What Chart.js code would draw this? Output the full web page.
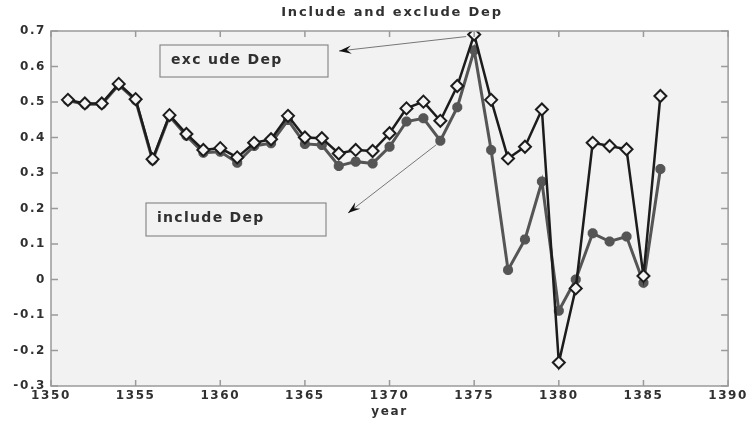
<!DOCTYPE html>
<html>
<head>
<meta charset="utf-8">
<script src="https://cdn.jsdelivr.net/npm/chart.js@4/dist/chart.umd.min.js"></script>
<style>
  html, body { margin: 0; padding: 0; background: #fff; }
  #wrap { width: 751px; height: 424px; }
</style>
</head>
<body>
<div id="wrap"><canvas id="depChart"></canvas></div>
<script>
// years on the x axis
const years = [1351, 1352, 1353, 1354, 1355, 1356, 1357, 1358, 1359, 1360,
               1361, 1362, 1363, 1364, 1365, 1366, 1367, 1368, 1369, 1370,
               1371, 1372, 1373, 1374, 1375, 1376, 1377, 1378, 1379, 1380,
               1381, 1382, 1383, 1384, 1385, 1386];

// exclude Dep (diamonds)
const excludeDep = [0.506, 0.496, 0.496, 0.551, 0.508, 0.339, 0.463, 0.41, 0.365, 0.37,
                    0.344, 0.385, 0.395, 0.461, 0.40, 0.398, 0.355, 0.365, 0.362, 0.412,
                    0.482, 0.501, 0.447, 0.545, 0.69, 0.506, 0.341, 0.374, 0.479, -0.234,
                    -0.025, 0.385, 0.376, 0.367, 0.01, 0.517];

// include Dep (stars)
const includeDep = [0.504, 0.494, 0.494, 0.548, 0.505, 0.336, 0.46, 0.405, 0.357, 0.36,
                    0.329, 0.376, 0.384, 0.449, 0.382, 0.379, 0.32, 0.332, 0.327, 0.374,
                    0.445, 0.454, 0.391, 0.485, 0.646, 0.365, 0.027, 0.113, 0.276, -0.088,
                    0.0, 0.13, 0.107, 0.121, -0.009, 0.311];

const xTicks = [1350, 1355, 1360, 1365, 1370, 1375, 1380, 1385, 1390];
const yTicks = [-0.3, -0.2, -0.1, 0, 0.1, 0.2, 0.3, 0.4, 0.5, 0.6, 0.7];

const FONT = "'DejaVu Sans', 'Liberation Sans', sans-serif";
const TEXT_SPACING = "1.6px";
const TEXT_COLOR = "#303030";

// 눈금 글자 간격 (원본처럼 넓게)
const spacingPlugin = {
    id: "spacing",
    beforeLayout(chart) { chart.ctx.letterSpacing = TEXT_SPACING; },
    beforeDraw(chart) { chart.ctx.letterSpacing = TEXT_SPACING; }
};

// 플롯 배경, 안쪽 눈금, 테두리, 제목
const framePlugin = {
    id: "frame",
    beforeDraw(chart) {
        const { ctx, chartArea: a } = chart;
        ctx.save();
        ctx.fillStyle = "#f2f2f2";
        ctx.fillRect(a.left, a.top, a.right - a.left, a.bottom - a.top);
        ctx.restore();
    },
    afterDraw(chart) {
        const { ctx, chartArea: a, scales } = chart;
        ctx.save();
        ctx.strokeStyle = "#9a9a9a";
        ctx.lineWidth = 1.5;
        ctx.strokeRect(a.left, a.top, a.right - a.left, a.bottom - a.top);
        ctx.beginPath();
        xTicks.forEach(v => {
            const x = scales.x.getPixelForValue(v);
            ctx.moveTo(x, a.bottom); ctx.lineTo(x, a.bottom - 6);
            ctx.moveTo(x, a.top); ctx.lineTo(x, a.top + 6);
        });
        yTicks.forEach(v => {
            const y = scales.y.getPixelForValue(v);
            ctx.moveTo(a.left, y); ctx.lineTo(a.left + 7, y);
            ctx.moveTo(a.right, y); ctx.lineTo(a.right - 7, y);
        });
        ctx.stroke();

        // 제목
        ctx.letterSpacing = "1.8px";
        ctx.fillStyle = TEXT_COLOR;
        ctx.font = "bold 13px " + FONT;
        ctx.textAlign = "center";
        ctx.textBaseline = "middle";
        ctx.fillText("Include and exclude Dep", 392, 13);
        ctx.restore();
    }
};

function drawArrow(ctx, x1, y1, x2, y2) {
    const ang = Math.atan2(y2 - y1, x2 - x1);
    ctx.strokeStyle = "#777";
    ctx.lineWidth = 1;
    ctx.beginPath();
    ctx.moveTo(x1, y1);
    ctx.lineTo(x2, y2);
    ctx.stroke();
    const len = 13, wing = 0.32;
    ctx.fillStyle = "#111";
    ctx.beginPath();
    ctx.moveTo(x2, y2);
    ctx.lineTo(x2 - len * Math.cos(ang - wing), y2 - len * Math.sin(ang - wing));
    ctx.lineTo(x2 - len * 0.6 * Math.cos(ang), y2 - len * 0.6 * Math.sin(ang));
    ctx.lineTo(x2 - len * Math.cos(ang + wing), y2 - len * Math.sin(ang + wing));
    ctx.closePath();
    ctx.fill();
}

// 텍스트 상자와 화살표
const notePlugin = {
    id: "notes",
    afterDatasetsDraw(chart) {
        const { ctx, scales } = chart;
        ctx.save();
        const boxes = [
            { x: 160, y: 45, w: 168, h: 32, text: "exc ude Dep" },
            { x: 146, y: 203, w: 180, h: 33, text: "include Dep" }
        ];
        boxes.forEach(b => {
            ctx.fillStyle = "#f2f2f2";
            ctx.fillRect(b.x, b.y, b.w, b.h);
            ctx.strokeStyle = "#8a8a8a";
            ctx.lineWidth = 1.2;
            ctx.strokeRect(b.x, b.y, b.w, b.h);
            ctx.fillStyle = TEXT_COLOR;
            ctx.font = "bold 14px " + FONT;
            ctx.letterSpacing = "1.3px";
            ctx.textAlign = "left";
            ctx.textBaseline = "middle";
            ctx.fillText(b.text, b.x + 11, b.y + b.h / 2 - 1);
        });
        const i75 = years.indexOf(1375), i73 = years.indexOf(1373);
        drawArrow(ctx, scales.x.getPixelForValue(1375) - 8, scales.y.getPixelForValue(excludeDep[i75]) + 2, 339, 51);
        drawArrow(ctx, scales.x.getPixelForValue(1373) - 4, scales.y.getPixelForValue(includeDep[i73]) + 4, 348, 213);
        ctx.restore();
    }
};

new Chart(document.getElementById("depChart"), {
    type: "line",
    data: {
        datasets: [
            {
                label: "exclude Dep",
                data: years.map((y, i) => ({ x: y, y: excludeDep[i] })),
                borderColor: "#1c1c1c",
                borderWidth: 2.5,
                pointStyle: "rectRot",
                pointRadius: 6,
                pointBorderWidth: 2,
                pointBackgroundColor: "#f4f4f4",
                pointBorderColor: "#1c1c1c",
                tension: 0,
                order: 1
            },
            {
                label: "include Dep",
                data: years.map((y, i) => ({ x: y, y: includeDep[i] })),
                borderColor: "#555",
                borderWidth: 3,
                pointStyle: "star",
                pointRadius: 5,
                pointBorderWidth: 3.5,
                pointBackgroundColor: "#555",
                pointBorderColor: "#555",
                tension: 0,
                order: 2
            }
        ]
    },
    options: {
        responsive: true,
        maintainAspectRatio: false,
        animation: false,
        layout: { padding: { left: 0, right: 22, top: 31, bottom: 0 } },
        plugins: {
            legend: { display: false },
            tooltip: { enabled: false },
            title: { display: false }
        },
        scales: {
            x: {
                type: "linear",
                min: 1350,
                max: 1390,
                afterBuildTicks: s => { s.ticks = xTicks.map(v => ({ value: v })); },
                afterFit: s => { s.height = 38; },
                grid: { display: false, drawTicks: false },
                border: { display: false },
                ticks: {
                    color: TEXT_COLOR,
                    padding: 3,
                    maxRotation: 0,
                    font: { family: FONT, size: 12, weight: "bold" },
                    callback: v => String(v)
                },
                title: {
                    display: true,
                    text: "year",
                    color: TEXT_COLOR,
                    font: { family: FONT, size: 12, weight: "bold" },
                    padding: { top: 0, bottom: 5 }
                }
            },
            y: {
                min: -0.3,
                max: 0.7,
                afterBuildTicks: s => { s.ticks = yTicks.map(v => ({ value: v })); },
                afterFit: s => { s.width = 51; },
                grid: { display: false, drawTicks: false },
                border: { display: false },
                ticks: {
                    color: TEXT_COLOR,
                    padding: 5,
                    font: { family: FONT, size: 12, weight: "bold" },
                    callback: v => {
                        const r = Math.round(v * 10) / 10;
                        return r === 0 ? "0" : r.toFixed(1);
                    }
                }
            }
        }
    },
    plugins: [spacingPlugin, framePlugin, notePlugin]
});
</script>
</body>
</html>
